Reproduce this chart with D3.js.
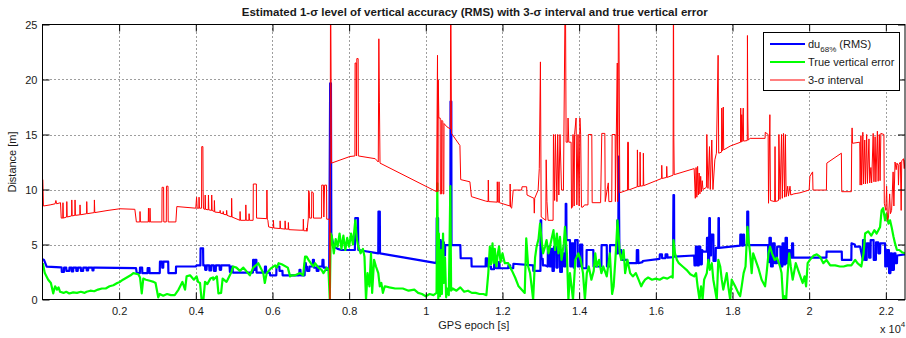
<!DOCTYPE html>
<html>
<head>
<meta charset="utf-8">
<script src="https://cdn.jsdelivr.net/npm/d3@7"></script>
<style>
  body { margin: 0; background: #fff; }
  svg { display: block; }
  text { font-family: "Liberation Sans", Arial, Helvetica, sans-serif; fill: #1a1a1a; }
</style>
</head>
<body>
<svg id="chart" width="906" height="338"></svg>
<script>
// ---- axis ticks ----
const xTicks = [2000, 4000, 6000, 8000, 10000, 12000, 14000, 16000, 18000, 20000, 22000];
const yTicks = [0, 5, 10, 15, 20, 25];

// ---- legend entries ----
const legendLabels = ["du", "True vertical error", "3-\u03c3 interval"];

// ---- estimated 1-sigma vertical accuracy (RMS), [epoch, metres] ----
const du68 = [
[10,3.65],[40,3.6],[110,2.98],[480,2.92],
[500,2.9],[505,2.5],[560,2.5],[565,2.9],[620,2.9],[625,2.6],[700,2.6],[705,2.9],[760,2.9],[765,2.55],[800,2.55],[805,2.9],
[880,2.9],[885,2.6],[920,2.6],[925,2.9],[1000,2.9],[1005,2.6],[1060,2.6],[1065,2.9],[1150,2.9],[1155,2.65],[1190,2.65],[1195,2.9],
[1300,2.9],[1305,2.65],[1330,2.65],[1335,2.9],[1400,2.9],
[2440,2.85],[2460,2.4],
[2540,2.4],[2545,2.9],[2600,2.9],[2605,2.4],
[2740,2.4],[2745,2.85],[2790,2.85],[2795,2.4],
[3060,2.4],[3065,3.44],[3120,3.44],[3125,2.9],[3150,2.9],[3155,3.44],[3280,3.44],[3285,2.4],
[3480,2.4],[3485,3.0],[4000,3.0],[4020,3.1],
[4120,3.1],[4125,4.65],[4190,4.65],[4195,3.1],
[4240,3.1],[4245,2.7],[4280,2.7],[4285,3.1],[4350,3.1],[4355,2.65],[4400,2.65],[4405,3.1],[4470,3.1],[4475,2.6],[4520,2.6],[4525,3.1],
[4620,3.1],[4625,2.7],[4660,2.7],[4665,3.1],[4880,3.1],[4890,2.5],
[4930,2.5],[4935,3.0],[4960,3.0],[4965,2.45],
[5490,2.45],[5495,3.6],[5520,3.6],[5525,2.7],[5545,2.7],[5550,3.6],[5580,3.6],[5585,2.45],
[5800,2.45],[5805,3.0],[5830,3.0],[5835,2.45],
[5930,2.45],[5940,2.2],
[6100,2.2],[6105,3.0],[6180,3.0],[6185,2.6],[6260,2.6],[6265,2.2],
[6700,2.2],[6705,2.7],[6730,2.7],[6735,2.2],
[6840,2.2],[6845,3.3],[6870,3.3],[6875,3.0],
[6900,3.0],[6905,2.6],[6960,2.6],[6965,3.0],[7050,3.0],[7055,3.6],[7080,3.6],[7085,2.9],[7150,2.9],[7155,2.6],[7200,2.6],[7205,3.0],
[7300,3.0],[7305,3.6],[7330,3.6],[7335,2.9],[7400,2.9],[7405,2.7],[7480,2.7],
[7505,19.65],[7525,19.65],[7535,6.0],[7560,5.4],[7600,4.8],[7700,4.6],[7800,4.5],[8150,4.5],
[8160,7.4],[8230,7.4],[8240,4.5],
[8760,4.2],[8765,8.0],[8800,8.0],[8805,4.2],
[10280,3.3],[10285,7.4],[10320,7.4],[10325,3.3],
[10360,3.3],[10365,5.4],[10390,5.4],[10395,3.6],[10420,3.6],[10425,5.2],[10470,5.2],[10475,4.0],[10500,4.0],[10505,4.95],
[10640,4.95],[10645,18.0],[10665,18.0],[10670,4.95],
[10900,4.95],[10910,3.75],
[11190,3.75],[11195,3.0],
[11560,3.0],[11565,3.75],[11600,3.75],[11605,3.0],[11700,3.0],[11705,2.75],[11780,2.75],[11785,3.4],[11830,3.4],[11835,2.84],
[11900,2.84],[11905,3.4],[11920,3.4],[11925,2.84],
[12150,2.84],[12155,3.1],[12200,3.1],[12205,2.84],
[12280,2.84],[12285,3.25],[12800,3.1],[12805,2.6],
[12990,2.6],[12995,7.2],[13010,7.2],[13015,3.7],[13050,3.7],[13055,3.1],[13120,3.1],
[13180,3.0],[13185,4.8],[13230,4.8],[13235,3.0],[13280,3.0],[13285,4.6],[13300,4.6],[13305,2.6],[13340,2.6],[13345,4.8],[13400,4.8],[13405,2.9],
[13440,2.9],[13445,4.5],[13500,4.5],[13505,2.5],[13550,2.5],[13555,4.2],[13600,4.2],[13605,3.0],
[13645,3.0],[13650,8.7],[13665,8.7],[13670,5.4],[13760,5.4],[13770,3.0],
[13800,3.0],[13805,5.1],[13850,5.1],[13855,2.9],[13890,2.9],[13895,5.4],[13960,5.4],[13965,3.0],[14020,3.0],[14025,5.0],[14080,5.0],[14085,2.84],
[14190,2.84],[14195,4.5],[14370,4.5],[14375,3.0],
[14580,3.0],[14585,4.95],[14720,4.95],[14725,3.0],
[14800,3.0],[14805,4.95],[14960,4.95],[14965,4.2],
[14990,4.2],[14995,7.2],[15005,4.2],[15020,4.2],[15030,13.0],[15050,4.3],
[15080,4.5],[15100,4.5],[15105,3.6],[15250,3.6],[15255,3.3],
[15500,3.3],[15505,4.5],[15540,4.5],[15545,3.3],
[15650,3.4],[15660,3.5],
[16100,3.7],[16105,4.1],[16160,4.1],[16165,3.75],[16250,3.75],[16255,4.1],[16300,4.1],[16305,3.8],
[16450,3.85],[16460,9.5],[16475,9.5],[16480,3.9],
[17000,4.0],
[17010,3.1],[17040,3.1],[17045,4.8],[17080,4.8],[17085,3.1],[17120,3.1],[17125,4.8],[17160,4.8],[17165,3.2],[17200,3.2],[17205,4.5],[17240,4.35],
[17330,4.35],[17335,5.6],[17360,5.6],[17365,3.4],[17390,3.4],[17395,7.4],[17410,7.4],[17415,4.0],[17440,4.0],[17445,5.9],[17500,5.9],[17505,3.5],[17560,3.5],[17565,4.7],
[17630,4.7],[17635,7.4],[17645,7.4],[17650,4.7],
[18200,4.9],[18205,5.9],[18240,5.9],[18245,4.9],[18280,4.9],[18285,5.9],[18300,5.9],[18305,4.95],
[18380,4.95],[18385,8.0],[18410,8.0],[18415,4.95],
[18930,4.95],[18935,3.44],
[18960,3.4],[18965,5.6],[19000,5.6],[19005,3.0],[19050,3.0],[19055,5.1],[19100,5.1],[19105,3.3],[19160,3.3],[19165,4.8],[19250,4.8],[19255,3.0],
[19300,3.0],[19305,5.1],[19340,5.1],[19345,3.2],[19380,3.2],[19385,5.6],[19420,5.6],[19425,3.3],[19460,3.3],[19465,4.5],[19500,4.5],[19505,3.8],
[19550,3.8],[19555,5.1],[19580,5.1],[19585,3.8],
[20450,3.8],[20455,4.35],[20850,4.35],[20855,3.6],
[21100,3.6],[21105,5.1],[21190,5.0],[21200,4.8],[21330,4.8],
[21400,3.6],[21405,5.4],[21450,5.4],[21455,3.6],[21500,3.6],[21505,5.1],[21560,5.1],[21565,3.8],[21600,3.8],[21605,5.4],[21680,5.4],[21685,3.6],
[21740,3.6],[21745,5.2],[21800,5.2],[21805,4.2],
[21850,4.2],[21855,5.1],[21980,5.1],[21985,3.0],[22030,3.0],[22035,4.5],[22080,4.5],[22085,2.4],[22120,2.4],[22125,4.2],[22160,4.2],[22165,2.7],
[22210,2.7],[22215,4.2],[22250,4.2],[22255,3.3],[22290,3.3],[22295,4.0],[22500,4.1]
];

// ---- true vertical error, [epoch, metres] ----
const trueErr = [
[10,3.3],[60,2.4],[150,1.8],[220,1.5],[280,0.56],[330,1.2],[380,0.9],[420,1.1],[460,0.7],[550,0.6],[620,0.7],[700,0.55],[800,0.65],[900,0.6],
[1000,0.7],[1100,0.6],[1150,0.7],[1250,0.8],[1350,0.75],[1450,0.9],[1550,1.0],[1650,1.0],[1750,1.2],[1850,1.3],[1950,1.5],[2020,1.6],
[2100,1.8],[2200,2.0],[2300,2.2],[2370,2.4],
[2500,2.3],[2545,2.0],[2590,0.56],[2630,1.9],[2700,1.8],[2800,1.7],[2900,1.6],[2950,1.5],[3020,0.2],[3060,0.5],[3150,0.35],[3250,0.5],[3350,0.4],[3450,0.4],
[3550,0.9],[3650,1.6],[3720,0.9],[3760,2.1],[3850,2.2],[3950,1.8],[4020,2.1],[4060,1.6],[4110,1.5],[4150,0.0],[4200,0.05],[4240,1.6],[4300,1.4],
[4380,1.9],[4450,2.0],[4460,1.8],[4550,2.1],[4590,0.56],[4660,0.6],[4700,1.9],[4800,1.6],[4930,2.5],[4970,3.0],[5060,2.9],[5150,2.6],[5240,2.9],
[5410,2.2],[5500,2.9],[5630,3.3],[5760,2.4],[5800,1.5],[5850,2.4],[5950,2.8],[6070,3.1],[6110,2.9],[6160,3.3],[6240,3.2],[6400,2.9],[6460,2.1],
[6500,2.2],[6590,2.2],[6720,2.4],[6800,2.2],[6850,3.9],[6890,3.9],[6940,3.6],[7000,3.3],[7070,3.0],[7110,3.3],[7200,2.9],[7280,2.7],[7330,2.4],
[7420,2.9],[7460,2.7],
[7495,0],[7520,6.0],[7550,5.7],[7600,4.2],[7650,5.5],[7700,4.8],[7750,6.0],[7800,4.6],[7850,5.8],[7900,4.5],[7950,5.6],[8000,4.8],[8050,6.0],
[8100,5.0],[8160,7.2],[8200,5.5],[8240,4.8],[8300,4.2],[8360,4.6],[8400,3.9],[8440,0.0],[8480,2.4],[8530,1.2],[8570,4.2],[8600,0.6],[8650,3.6],
[8700,3.0],[8760,2.4],[8800,1.2],[8840,1.5],[8880,0.6],[8930,1.2],[9050,1.1],[9200,1.0],[9400,1.0],[9550,0.8],[9700,0.9],[9800,0.6],[9900,0.5],
[10000,0.3],[10100,0.5],[10200,0.4],[10280,0.6],
[10300,10.56],[10325,0.0],[10340,6.0],[10370,0.3],[10400,4.5],[10420,0.5],[10450,6.0],[10470,1.5],[10500,3.8],[10530,0.2],[10560,1.0],[10600,0.4],
[10640,10.3],[10660,0.8],[10700,1.0],[10800,0.8],[10900,1.1],[11000,0.7],[11100,0.8],[11200,0.6],[11300,0.6],[11400,0.5],[11500,0.5],[11580,0.4],
[11630,2.4],[11670,4.8],[11700,3.2],[11740,5.1],[11770,3.3],[11800,4.6],[11840,3.0],[11880,4.2],[11910,4.8],[11950,3.4],[12000,4.2],[12060,3.3],
[12150,3.3],[12250,2.6],[12330,2.0],[12420,1.2],[12580,0.6],[12620,5.56],[12670,3.0],[12720,2.4],[12800,0.0],[12850,3.8],[12890,4.8],[12940,5.5],
[12980,6.9],[13020,5.4],[13060,4.2],[13110,4.8],[13150,5.4],[13200,4.2],[13250,5.0],[13330,6.3],[13370,4.5],[13420,6.0],[13460,4.2],[13500,5.7],
[13540,3.6],[13600,5.1],[13630,6.6],[13680,4.2],[13720,0.0],[13760,2.4],[13800,1.2],[13840,0.0],[13900,3.6],[13980,4.2],[14040,3.6],[14100,2.4],
[14150,0.0],[14200,2.4],[14250,3.0],[14320,1.8],[14380,2.6],[14420,4.2],[14460,3.0],[14520,3.6],[14580,2.4],[14630,3.0],[14720,2.1],[14800,4.2],
[14860,0.5],[14900,1.2],[14960,4.5],[15000,7.2],[15060,4.2],[15100,3.6],[15160,4.5],[15200,2.4],[15260,3.6],[15330,2.4],[15400,2.1],[15480,2.4],
[15550,1.8],[15620,1.2],[15660,1.5],[15720,1.8],[15800,2.0],[15900,1.8],[16000,1.9],[16100,1.8],[16200,2.0],[16300,1.9],[16400,2.1],[16440,2.0],
[16460,5.4],[16500,4.2],[16550,3.6],[16600,3.3],[16700,3.0],[16800,2.7],[16900,2.3],[17000,2.1],[17050,2.4],[17090,1.2],[17140,0.0],[17180,1.2],
[17220,0.0],[17260,1.8],[17330,2.4],[17370,3.6],[17410,2.7],[17460,3.3],[17500,1.8],[17590,0.0],[17630,3.6],[17680,3.0],[17720,1.8],[17760,0.9],
[17850,2.4],[17890,1.2],[17940,0.0],[17980,1.8],[18070,1.2],[18150,0.6],[18200,0.3],[18240,1.2],[18290,2.4],[18340,3.0],[18390,6.6],[18420,5.4],
[18460,4.2],[18500,2.4],[18540,4.2],[18600,3.6],[18680,2.8],[18760,1.8],[18850,1.2],[18890,2.4],[18940,4.2],[18980,4.8],[19030,4.2],[19100,3.6],
[19160,3.8],[19240,3.0],[19280,2.4],[19320,0.0],[19360,0.3],[19400,0.0],[19440,2.4],[19480,4.2],[19520,3.0],[19570,1.8],[19650,3.3],[19740,2.4],
[19830,1.5],[19880,2.1],[19920,1.2],[19960,3.3],[20020,3.6],[20120,4.0],[20200,4.1],[20280,3.9],[20370,3.3],[20450,3.6],[20550,3.1],[20680,3.1],
[20800,3.0],[20900,3.0],[21000,3.1],[21100,3.1],[21200,3.6],[21260,3.3],[21360,3.0],[21420,4.2],[21460,6.0],[21540,6.2],[21620,5.8],[21700,6.3],
[21760,6.0],[21850,6.6],[21890,8.1],[21930,8.3],[21980,7.2],[22020,7.8],[22070,6.9],[22110,7.2],[22150,6.6],[22200,5.7],[22240,5.1],[22290,4.5],
[22350,4.5],[22420,4.3],[22500,4.2]
];

// ---- 3-sigma interval, [epoch, metres] ----
const sigma3 = [
[10,10.9],[25,8.5],[200,8.6],[330,8.7],[350,9.0],[370,8.7],[470,8.8],[490,7.4],
[530,7.4],[535,8.8],[545,7.4],[630,7.5],[635,8.9],[645,7.5],[760,7.6],[765,9.05],[775,7.6],[845,7.65],[850,9.05],[860,7.65],
[975,7.7],[980,8.6],[990,7.7],[1150,7.8],[1155,8.9],[1165,7.8],[1350,7.9],[1355,9.05],[1365,7.9],
[1710,8.1],[2020,8.25],[2410,8.2],[2450,7.05],
[2540,7.05],[2545,8.0],[2555,7.05],[2760,7.05],[2765,8.3],[2775,7.05],[2800,7.05],[2805,8.3],[2815,7.05],
[3115,7.05],[3120,10.2],[3160,10.2],[3165,7.05],[3230,7.05],[3235,10.3],[3275,10.3],[3280,7.05],
[3480,7.05],[3505,8.45],[4000,8.3],[4020,9.3],[4035,8.3],[4080,8.3],[4085,9.3],[4095,8.3],
[4150,8.3],[4155,13.9],[4185,13.9],[4190,9.9],[4200,8.25],
[4240,8.2],[4245,9.5],[4255,8.2],[4325,8.15],[4330,9.5],[4340,8.15],[4410,8.1],[4415,9.5],[4425,8.1],[4480,8.0],[4485,9.0],[4495,7.95],
[4630,7.9],[4635,8.1],[4640,7.85],[4710,7.8],[4715,8.0],[4725,7.75],[4800,7.7],[4805,8.1],[4815,7.65],[4930,7.5],[4935,9.2],[4945,7.5],
[5150,7.2],[5155,8.0],[5165,7.2],[5300,7.2],[5305,8.6],[5315,7.2],[5385,7.2],[5390,7.8],[5400,7.2],
[5495,7.2],[5500,10.5],[5580,10.5],[5585,7.4],[5850,7.35],[5855,9.95],[5865,7.3],[5880,7.2],[5900,6.6],
[6020,6.5],[6025,7.2],[6035,6.5],[6195,6.45],[6200,7.15],[6210,6.45],[6325,6.4],[6330,7.15],[6340,6.4],[6410,6.4],[6415,7.0],[6425,6.35],
[6720,6.3],[6800,6.3],[6805,7.3],[6815,6.25],[6890,6.25],[6895,6.5],[6900,6.2],
[6935,7.4],[6945,9.9],[6960,9.7],[6970,7.4],[7020,7.4],[7025,9.8],[7065,9.7],[7070,7.4],
[7280,7.4],[7285,10.4],[7330,10.4],[7340,7.5],[7360,10.4],[7410,10.4],[7415,7.3],
[7490,7.3],[7500,0],[7515,30],[7540,12.4],
[8020,13.0],[8150,13.05],[8155,21.5],[8185,21.5],[8190,13.05],[8200,21.9],[8235,21.9],[8240,13.05],
[8680,12.8],[8760,12.5],[8775,23.7],[8790,17.9],[8805,12.4],
[10280,9.8],[10305,22.2],[10315,9.8],[10325,19.95],[10340,16.5],[10375,16.5],[10380,9.6],[10410,9.6],[10415,16.3],[10445,16.2],[10450,9.6],
[10470,9.6],[10475,16.0],[10550,15.7],[10640,15.5],[10650,30],[10670,15.1],
[10890,14.0],[10910,10.9],[11150,10.7],[11190,9.35],[11560,8.95],
[11625,8.9],[11630,10.86],[11640,8.9],[11860,8.85],[11865,10.7],[11875,8.85],[11905,8.85],[11910,10.7],[11920,8.8],
[12195,8.5],[12200,10.5],[12210,8.4],[12240,8.3],[12280,9.95],[12500,9.95],[12510,10.25],[12630,10.25],[12640,9.5],[12820,9.2],
[12830,7.85],[12840,9.2],[12930,9.95],[12960,11.9],[12990,21.6],[13010,7.5],
[13130,7.2],[13140,12.7],[13160,8.9],[13190,7.2],
[13320,7.2],[13330,15.0],[13360,9.0],[13380,15.0],[13420,8.9],[13440,15.0],[13470,9.5],[13500,15.0],[13540,9.95],[13590,9.95],
[13640,30],[13660,14.3],[13700,14.3],[13710,16.5],[13730,14.3],[13790,14.3],[13800,8.3],
[13830,8.4],[13840,15.0],[13870,8.5],[13880,15.0],[13920,16.5],[13940,8.6],[13970,15.0],[14000,8.5],[14020,16.5],[14040,15.0],[14060,8.4],[14100,8.4],
[14140,8.6],[14230,8.6],[14240,15.0],[14330,15.0],[14340,8.8],[14560,8.8],[14590,15.1],[14670,15.1],[14680,8.9],
[14760,10.6],[14775,8.9],[14850,8.9],[14860,15.0],[14940,15.0],[14945,8.9],
[14995,21.5],[15005,8.9],[15030,30],[15060,9.7],
[15260,9.95],[15265,14.3],[15285,14.3],[15290,9.95],
[15515,10.25],[15520,13.6],[15530,10.25],[15585,10.3],[15590,13.4],[15600,10.3],[15670,10.35],[15675,13.3],[15685,10.35],
[16150,11.0],[16155,12.2],[16165,11.0],[16280,11.1],[16285,12.1],[16295,11.1],
[16450,11.3],[16460,30],[16470,14.7],[16480,11.35],[17000,11.9],
[17030,9.2],[17050,12.0],[17070,9.3],[17090,12.1],[17110,9.5],[17130,11.5],[17150,9.6],[17170,11.2],[17190,9.8],[17210,10.8],[17230,10.0],
[17320,10.2],[17330,15.0],[17360,10.1],[17400,13.9],[17420,10.0],[17460,14.5],[17490,10.0],[17540,12.7],[17580,13.3],
[17625,22.2],[17640,13.3],[17715,13.4],[17720,17.4],[17730,13.5],[17760,17.5],[17770,13.6],
[17940,13.95],[18210,14.3],[18215,17.4],[18225,14.3],[18240,16.8],[18250,14.35],[18280,17.4],[18290,14.4],
[18385,14.45],[18390,24.0],[18400,16.5],[18410,14.5],
[18460,14.65],[18850,14.65],[18855,15.2],[18930,15.0],[18940,8.75],[18975,16.8],[18990,9.0],
[19100,8.9],[19110,13.9],[19120,8.9],[19200,9.0],[19210,15.0],[19240,9.1],[19280,15.0],[19300,9.2],[19330,15.1],[19360,9.3],[19380,15.0],
[19400,9.35],[19440,10.3],[19460,9.4],[19500,10.3],[19520,9.5],[19600,9.6],[19680,9.65],
[19760,9.7],[20000,9.95],[20020,11.2],[20090,11.6],[20100,9.95],[20450,9.95],[20460,12.4],[20840,13.3],[20850,9.8],
[21100,9.8],[21110,14.2],[21120,15.6],[21130,14.2],[21320,14.3],
[21330,10.4],[21350,14.9],[21370,10.4],[21400,15.2],[21420,10.5],[21450,14.5],[21470,10.5],[21500,15.0],[21520,10.55],[21560,14.6],
[21580,10.6],[21610,12.0],[21630,10.6],[21670,15.1],[21690,10.7],[21720,14.8],[21740,10.7],[21780,15.3],[21800,10.75],[21830,15.0],[21850,10.8],
[21870,15.1],[21950,15.0],[21960,8.75],[22000,8.1],[22020,10.3],[22040,7.2],[22070,7.5],[22100,9.6],[22120,7.8],[22150,8.1],[22190,11.6],
[22210,8.5],[22240,12.5],[22270,11.8],[22290,12.4],[22320,12.2],[22330,10.4],[22345,12.3],[22380,12.5],[22400,8.1],[22415,12.6],[22460,12.8],
[22480,11.9],[22500,12.7]
];

// ---- layout ----
const W = 906, H = 338;
const plot = { left: 42.5, right: 905, top: 24.5, bottom: 299.5 };
const svg = d3.select("#chart");

const x = d3.scaleLinear().domain([1, 22500]).range([plot.left, plot.right]);
const y = d3.scaleLinear().domain([0, 25]).range([plot.bottom, plot.top]);

svg.append("rect").attr("width", W).attr("height", H).attr("fill", "#fff");

svg.append("defs").append("clipPath").attr("id", "plotClip")
  .append("rect")
  .attr("x", plot.left).attr("y", plot.top)
  .attr("width", plot.right - plot.left).attr("height", plot.bottom - plot.top);

// dotted grid
const grid = svg.append("g").attr("stroke", "#3c3c3c").attr("stroke-width", 1)
  .attr("stroke-dasharray", "1,3").attr("fill", "none");
grid.selectAll(".gx").data(xTicks).join("line")
  .attr("x1", d => Math.round(x(d)) + 0.5).attr("x2", d => Math.round(x(d)) + 0.5)
  .attr("y1", plot.top).attr("y2", plot.bottom);
grid.selectAll(".gy").data(yTicks.filter(d => d > 0 && d < 25)).join("line")
  .attr("y1", d => Math.round(y(d)) + 0.5).attr("y2", d => Math.round(y(d)) + 0.5)
  .attr("x1", plot.left).attr("x2", plot.right);

// series: RMS level first, true error over it, 3-sigma interval on top
const line = d3.line().x(d => x(d[0])).y(d => y(d[1]));
const series = svg.append("g").attr("clip-path", "url(#plotClip)").attr("fill", "none")
  .attr("stroke-linejoin", "round");
series.append("path").datum(du68).attr("d", line).attr("stroke", "#0000ff").attr("stroke-width", 2.2);
series.append("path").datum(trueErr).attr("d", line).attr("stroke", "#00ff00").attr("stroke-width", 2.2);
series.append("path").datum(sigma3).attr("d", line).attr("stroke", "#ff0000").attr("stroke-width", 1);

// axes (inward ticks on all four sides, labels bottom/left)
const fontSize = 11;
const styleAxis = g => {
  g.select(".domain").remove();
  g.selectAll(".tick line").attr("stroke", "#000");
  g.selectAll("text").attr("font-size", fontSize)
    .attr("font-family", "'Liberation Sans', Arial, sans-serif").attr("fill", "#1a1a1a");
};
const tl = 7;
svg.append("g").attr("transform", `translate(0,${plot.bottom})`)
  .call(d3.axisBottom(x).tickValues(xTicks).tickSizeInner(-tl).tickSizeOuter(0).tickPadding(8)
    .tickFormat(d => d3.format("~g")(d / 1e4)))
  .call(styleAxis);
svg.append("g").attr("transform", `translate(0,${plot.top})`)
  .call(d3.axisTop(x).tickValues(xTicks).tickSizeInner(-tl).tickSizeOuter(0).tickFormat(""))
  .call(styleAxis);
svg.append("g").attr("transform", `translate(${plot.left},0)`)
  .call(d3.axisLeft(y).tickValues(yTicks).tickSizeInner(-tl).tickSizeOuter(0).tickPadding(5))
  .call(styleAxis);
svg.append("g").attr("transform", `translate(${plot.right},0)`)
  .call(d3.axisRight(y).tickValues(yTicks).tickSizeInner(-tl).tickSizeOuter(0).tickFormat(""))
  .call(styleAxis);

// frame
svg.append("rect")
  .attr("x", plot.left).attr("y", plot.top)
  .attr("width", plot.right - plot.left).attr("height", plot.bottom - plot.top)
  .attr("fill", "none").attr("stroke", "#000").attr("stroke-width", 1);

// exponent note for the x axis
const expo = svg.append("text").attr("x", 880).attr("y", 333).attr("font-size", 11);
expo.append("tspan").text("x 10");
expo.append("tspan").attr("font-size", 8).attr("dy", -6).text("4");

// axis titles
svg.append("text").attr("x", (plot.left + plot.right) / 2).attr("y", 329)
  .attr("text-anchor", "middle").attr("font-size", 11).text("GPS epoch [s]");
svg.append("text").attr("transform", `translate(16,${(plot.top + plot.bottom) / 2}) rotate(-90)`)
  .attr("text-anchor", "middle").attr("font-size", 11).text("Distance [m]");

// chart title
svg.append("text").attr("x", (plot.left + plot.right) / 2 + 1).attr("y", 16)
  .attr("text-anchor", "middle").attr("font-size", 11).attr("font-weight", "bold")
  .attr("textLength", 466).attr("lengthAdjust", "spacingAndGlyphs")
  .text("Estimated 1-\u03c3 level of vertical accuracy (RMS) with 3-\u03c3 interval and true vertical error");

// legend
const lg = svg.append("g");
lg.append("rect").attr("x", 763.5).attr("y", 32.5).attr("width", 136).attr("height", 58)
  .attr("fill", "#fff").attr("stroke", "#000").attr("stroke-width", 1);
const legendColors = ["#0000ff", "#00ff00", "#ff0000"];
const legendWidths = [2.2, 2.2, 1];
legendLabels.forEach((lab, i) => {
  const yy = 44 + i * 18;
  lg.append("line").attr("x1", 770).attr("x2", 805).attr("y1", yy).attr("y2", yy)
    .attr("stroke", legendColors[i]).attr("stroke-width", legendWidths[i]);
  const t = lg.append("text").attr("x", 808).attr("y", yy + 4).attr("font-size", 11);
  if (i === 0) {
    t.append("tspan").text("du");
    t.append("tspan").attr("font-size", 8).attr("dy", 4).text("68%");
    t.append("tspan").attr("dy", -4).text(" (RMS)");
  } else {
    t.text(lab);
  }
});
</script>
</body>
</html>
